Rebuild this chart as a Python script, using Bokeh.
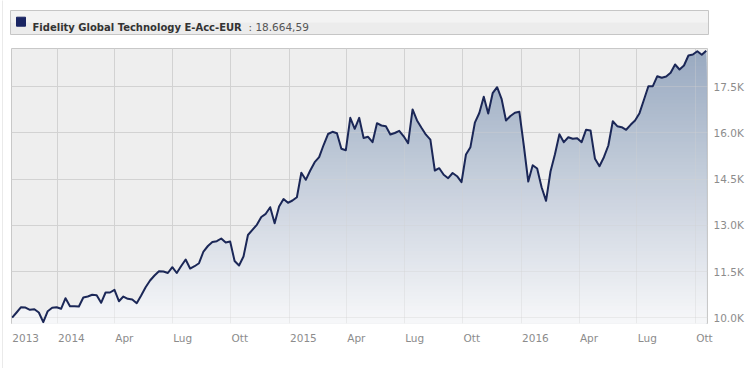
import numpy as np
import pandas as pd
from bokeh.plotting import figure
from bokeh.models import Range1d, FixedTicker, Spacer, Grid
from bokeh.layouts import column, row
from bokeh.core.properties import value
from bokeh.embed import file_html
from bokeh.resources import INLINE

# ---------------- data ----------------
series_name = "Fidelity Global Technology E-Acc-EUR"
start_date = "2013-10-22"          # weekly series
values = [
    10000, 10169, 10341, 10331, 10256, 10276, 10169, 9854, 10211, 10321,
    10341, 10289, 10633, 10373, 10373, 10364, 10656, 10688, 10744, 10731,
    10484, 10818, 10818, 10906, 10536, 10688, 10614, 10591, 10471, 10721,
    10990, 11208, 11370, 11510, 11500, 11451, 11640, 11451, 11679, 11890,
    11597, 11672, 11769, 12149, 12328, 12458, 12484, 12571, 12442, 12474,
    11841, 11695, 11987, 12685, 12854, 13016, 13269, 13373, 13588, 13068,
    13610, 13854, 13731, 13805, 13912, 14705, 14477, 14779, 15049, 15211,
    15607, 15964, 16036, 15990, 15484, 15438, 16490, 16133, 16490, 15834,
    15873, 15698, 16315, 16240, 16218, 15948, 15997, 16068, 15890, 15666,
    16760, 16403, 16166, 15942, 15779, 14779, 14854, 14640, 14529, 14698,
    14594, 14399, 15299, 15536, 16331, 16646, 17172, 16630, 17289, 17484,
    17107, 16403, 16549, 16656, 16685, 15591, 14422, 14951, 14844, 14237,
    13795, 14747, 15308, 15955, 15698, 15860, 15808, 15828, 15698, 16104,
    16078, 15159, 14919, 15211, 15591, 16377, 16218, 16185, 16101, 16263,
    16403, 16640, 17075, 17516, 17516, 17841, 17789, 17831, 17951, 18221,
    18058, 18188, 18513, 18545, 18653, 18536, 18664.59,
]
y_ticks = [10000, 11500, 13000, 14500, 16000, 17500]
y_tick_labels = ["10.0K", "11.5K", "13.0K", "14.5K", "16.0K", "17.5K"]
grid_dates = ["2014-01-01", "2014-04-01", "2014-07-01", "2014-10-01",
              "2015-01-01", "2015-04-01", "2015-07-01", "2015-10-01",
              "2016-01-01", "2016-04-01", "2016-07-01", "2016-10-01"]
x_tick_labels = ["2013", "2014", "Apr", "Lug", "Ott", "2015", "Apr", "Lug", "Ott",
                 "2016", "Apr", "Lug", "Ott"]
y_lo, y_hi = 9812, 18740

# ---------------- derived ----------------
DAY = 86400000
dates = pd.date_range(start_date, periods=len(values), freq="7D")
x_ms = dates.values.astype("datetime64[ms]").astype(np.int64).astype(float)
vals = np.array(values, dtype=float)
x_start = x_ms[0] - 1 * DAY
x_end = x_ms[-1] + 2 * DAY

W = 751                      # column width (page x 3 .. 754)
BORDER_L, BORDER_R = 8, 47
FRAME_W = W - BORDER_L - BORDER_R
px_per_ms = FRAME_W / (x_end - x_start)

FONT = "DejaVu Sans"
LABEL_PX = 10.5
CHAR_EM = {"A": 0.684, "p": 0.635, "r": 0.411, "L": 0.557, "u": 0.634,
           "g": 0.635, "O": 0.787, "t": 0.392}


def half_width_ms(lbl):
    w = sum(CHAR_EM.get(c, 0.636) for c in lbl) * LABEL_PX
    return (w / 2 + 0.8) / px_per_ms


grid_ms = [float(pd.Timestamp(d).value // 10**6) for d in grid_dates]
anchor_ms = [x_start] + grid_ms
label_ticks = [int(round(a + half_width_ms(l))) for a, l in zip(anchor_ms, x_tick_labels)]

last_txt = f"{values[-1]:,.2f}".replace(",", "X").replace(".", ",").replace("X", ".")


def blank_fig(w, h, color):
    f = figure(width=w, height=h, toolbar_location=None, output_backend="svg",
               min_border=0, x_axis_location=None, y_axis_location=None)
    f.grid.visible = False
    f.background_fill_color = color
    f.border_fill_color = color
    f.outline_line_color = None
    return f


# ---------------- header ----------------
HH = 40
h = figure(width=W, height=HH, x_range=Range1d(0, W), y_range=Range1d(0, HH),
           toolbar_location=None, output_backend="svg", min_border=0,
           x_axis_location=None, y_axis_location=None)
h.grid.visible = False
h.outline_line_color = None
h.background_fill_color = "white"
h.border_fill_color = "white"
h.quad(left=[7], right=[705], bottom=[6], top=[30], fill_color="#ececec",
       line_color="#c6c6c6", line_width=1)
h.quad(left=[7.5], right=[704.5], bottom=[18], top=[29.5], fill_color="#f3f3f3",
       line_color=None)
h.scatter(x=[17.5], y=[18.8], marker="square", size=9, fill_color="#1a2563",
          line_color="#1a2563")
h.text(x=[29], y=[13.4], text=[series_name], text_font=value(FONT),
       text_font_style="bold", text_font_size="10px", text_color="#333333",
       text_baseline="alphabetic", text_align="left")
h.text(x=[245], y=[13.4], text=[":  " + last_txt], text_font=value(FONT),
       text_font_size="10.5px", text_color="#555555",
       text_baseline="alphabetic", text_align="left")

# ---------------- main chart ----------------
p = figure(width=W, height=315, x_axis_type="datetime", y_axis_location="right",
           x_range=Range1d(x_start, x_end), y_range=Range1d(y_lo, y_hi),
           toolbar_location=None, output_backend="svg",
           min_border_left=BORDER_L, min_border_right=BORDER_R,
           min_border_top=8, min_border_bottom=32)
p.background_fill_color = "#eeeeee"
p.border_fill_color = "white"
p.outline_line_color = "#c8c8c8"

xt = FixedTicker(ticks=grid_ms)
yt = FixedTicker(ticks=y_ticks)
p.xgrid.ticker = xt
p.ygrid.ticker = yt
for g in (p.xgrid[0], p.ygrid[0]):
    g.grid_line_color = "#d3d3d3"
    g.level = "image"
# faint grid visible through the filled area
p.add_layout(Grid(dimension=0, ticker=xt, grid_line_color="#d0d0d0",
                  grid_line_alpha=0.35, level="underlay"))
p.add_layout(Grid(dimension=1, ticker=yt, grid_line_color="#d0d0d0",
                  grid_line_alpha=0.35, level="underlay"))

p.xaxis.ticker = FixedTicker(ticks=label_ticks)
p.xaxis.major_label_overrides = dict(zip(label_ticks, x_tick_labels))
p.yaxis.ticker = FixedTicker(ticks=y_ticks)
p.yaxis.major_label_overrides = dict(zip(y_ticks, y_tick_labels))
for ax in (p.xaxis[0], p.yaxis[0]):
    ax.axis_line_color = None
    ax.major_tick_line_color = None
    ax.minor_tick_line_color = None
    ax.major_tick_out = 0
    ax.major_tick_in = 0
    ax.major_label_text_font = FONT
    ax.major_label_text_font_size = f"{LABEL_PX}px"
    ax.major_label_text_color = "#8c8c8c"
p.xaxis.major_label_standoff = 8
p.yaxis.major_label_standoff = 6

# gradient area under the line (horizontal bands, darkest on top)
x_fine = np.linspace(x_ms[0], x_ms[-1], 1500)
y_fine = np.interp(x_fine, x_ms, vals)
n_bands = 80
edges = np.linspace(y_lo, y_hi, n_bands + 1)
top_rgb = np.array([152, 169, 192])
bot_rgb = np.array([247, 247, 249])
for k in range(n_bands - 1, -1, -1):
    lo, hi = edges[k], edges[k + 1]
    if lo >= y_fine.max():
        continue
    frac = ((lo + hi) / 2 - y_lo) / (y_hi - y_lo)
    rgb = bot_rgb + (top_rgb - bot_rgb) * frac
    col = "#%02x%02x%02x" % tuple(int(round(c)) for c in rgb)
    r = p.varea(x=x_fine, y1=np.full_like(x_fine, y_lo), y2=np.minimum(y_fine, hi),
                fill_color=col, fill_alpha=1.0)
    r.level = "underlay"

p.line(x_ms, vals, line_color="#1b2757", line_width=2, line_join="round")

# ---------------- rules ----------------
ln = blank_fig(734, 1, "#dddddd")
vbar = blank_fig(1, 368, "#d6d6d6")

layout = row(Spacer(width=2, height=368), vbar,
             column(row(h), p, row(Spacer(width=8, height=1), ln)))
open("out.html", "w").write(file_html(layout, INLINE))
